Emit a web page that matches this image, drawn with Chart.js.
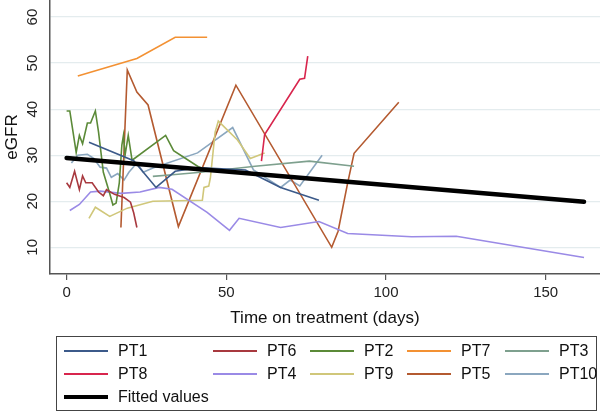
<!DOCTYPE html>
<html>
<head>
<meta charset="utf-8">
<script src="https://cdn.jsdelivr.net/npm/chart.js@4"></script>
<style>
  html, body { margin: 0; padding: 0; background: #fff; }
  #wrap { position: relative; width: 600px; height: 416px; font-family: "Liberation Sans", Arial, sans-serif; }
  #legend { position: absolute; left: 56px; top: 336px; width: 541px; height: 75px; border: 1px solid #444; box-sizing: border-box; }
  .item { position: absolute; height: 20px; display: flex; align-items: center; font-size: 16px; color: #111; }
  .item span.sw { display: inline-block; width: 44px; margin-right: 10px; }
</style>
</head>
<body>
<div id="wrap">
  <canvas id="chart" width="600" height="416"></canvas>
  <div id="legend"></div>
</div>
<script>
// eGFR readings per patient (days on treatment / value)
const pt1Days = [7, 21, 28, 34, 41, 56, 67, 79];
const pt1Egfr = [32.8, 28.8, 23.0, 26.5, 27.3, 26.8, 23.0, 20.2];

const pt6Days = [0, 1, 2.5, 4, 5, 6, 8, 10, 11.5, 12.5, 15, 18, 20, 21, 22];
const pt6Egfr = [24, 23, 26.5, 22.5, 25.5, 24, 24, 22, 21.2, 22.5, 21.5, 20.8, 19.8, 17.5, 14.3];

const pt2Days = [0, 1, 3, 4, 5, 6.5, 7.5, 9, 10, 11.5, 13.5, 14.5, 15.5, 16.5, 17.3, 17.8, 18.3, 19.3, 20.5, 31, 33.5, 41, 43];
const pt2Egfr = [39.6, 39.6, 30.6, 34.3, 32.5, 37, 37, 39.6, 35, 26.3, 21.7, 19.2, 19.6, 24, 32.2, 34.3, 30, 34.3, 28.9, 34.3, 31, 27.6, 27];

const pt7Days = [3.5, 22, 34, 44];
const pt7Egfr = [47.2, 51, 55.6, 55.6];

const pt3Days = [27, 34, 42, 59, 76, 90];
const pt3Egfr = [25.4, 25.8, 26.3, 27.6, 28.7, 27.6];

const pt8Days = [61, 62, 73, 74.5, 75.5];
const pt8Egfr = [28.7, 34.5, 46.5, 46.7, 51.5];

const pt4Days = [1, 4, 7.5, 10.5, 17, 23, 29, 33, 44, 51, 54, 67, 79, 88, 108, 122, 162];
const pt4Egfr = [18, 19.3, 22, 22.2, 21.7, 22, 23, 22.6, 17.6, 13.7, 16.3, 14.3, 15.6, 13, 12.3, 12.4, 7.8];

const pt9Days = [7, 9, 13.5, 19, 27, 42.5, 43, 44.5, 45, 46.5, 47.5, 53.5, 57.5, 62];
const pt9Egfr = [16.3, 18.7, 16.7, 18.5, 20, 20.2, 23, 23.3, 25, 35, 37.4, 33.3, 29.3, 30.5];

const pt5Days = [17, 19, 22, 25.5, 35, 53, 83, 85, 88, 90, 104];
const pt5Egfr = [14.3, 48.5, 43.7, 40.9, 14.5, 45.2, 10, 13.5, 24, 30.4, 41.5];

const pt10Days = [1.5, 3.5, 6.5, 8.5, 10.5, 12.5, 14, 16, 18, 19.5, 22, 24, 27, 41, 52, 58.5, 67, 70, 73, 80];
const pt10Egfr = [28.3, 30, 30.2, 29.3, 27.4, 27.2, 25.2, 26, 24.6, 26.3, 28.3, 26.3, 27.2, 30.5, 36, 26.8, 23, 24.6, 23.3, 30];

const fitDays = [0, 162];
const fitEgfr = [29.4, 19.9];

const xTicks = [0, 50, 100, 150];
const yTicks = [10, 20, 30, 40, 50, 60];

const series = [
    { label: 'PT1', days: pt1Days, vals: pt1Egfr, color: '#3c5a8a' },
    { label: 'PT6', days: pt6Days, vals: pt6Egfr, color: '#a8393f' },
    { label: 'PT2', days: pt2Days, vals: pt2Egfr, color: '#5b8a38' },
    { label: 'PT7', days: pt7Days, vals: pt7Egfr, color: '#f39133' },
    { label: 'PT3', days: pt3Days, vals: pt3Egfr, color: '#7ea08e' },
    { label: 'PT8', days: pt8Days, vals: pt8Egfr, color: '#d8254d' },
    { label: 'PT4', days: pt4Days, vals: pt4Egfr, color: '#9a8ae6' },
    { label: 'PT9', days: pt9Days, vals: pt9Egfr, color: '#d0c77a' },
    { label: 'PT5', days: pt5Days, vals: pt5Egfr, color: '#b45a30' },
    { label: 'PT10', days: pt10Days, vals: pt10Egfr, color: '#8ba7bf' }
];

const toPoints = (days, vals) => days.map((d, i) => ({ x: d, y: vals[i] }));

const datasets = [{
    label: 'Fitted values',
    data: toPoints(fitDays, fitEgfr),
    borderColor: '#000',
    borderWidth: 4.5,
    pointRadius: 0,
    borderCapStyle: 'round'
}].concat(series.map(s => ({
    label: s.label,
    data: toPoints(s.days, s.vals),
    borderColor: s.color,
    borderWidth: 1.6,
    pointRadius: 0
})));

// rotated y tick labels, Stata style
const yLabels = {
    id: 'yLabels',
    afterDraw(chart) {
        const { ctx, scales: { y } } = chart;
        ctx.save();
        ctx.font = '15px "Liberation Sans", Arial, sans-serif';
        ctx.fillStyle = '#222';
        ctx.textAlign = 'center';
        ctx.textBaseline = 'middle';
        yTicks.forEach(v => {
            ctx.save();
            ctx.translate(33, y.getPixelForValue(v));
            ctx.rotate(-Math.PI / 2);
            ctx.fillText(String(v), 0, 0);
            ctx.restore();
        });
        ctx.restore();
    }
};

new Chart(document.getElementById('chart'), {
    type: 'line',
    data: { datasets: datasets },
    options: {
        responsive: false,
        animation: false,
        layout: { padding: { left: 0, right: 0, top: 0, bottom: 80 } },
        plugins: { legend: { display: false }, tooltip: { enabled: false } },
        scales: {
            x: {
                type: 'linear',
                min: -5.2,
                max: 167,
                afterBuildTicks: scale => { scale.ticks = xTicks.map(v => ({ value: v })); },
                afterFit: scale => { scale.height = 62; },
                grid: { drawOnChartArea: false, drawTicks: true, tickLength: 6, color: '#555', lineWidth: 1.2 },
                border: { color: '#555', width: 1.5 },
                ticks: { color: '#222', font: { size: 15, family: '"Liberation Sans", Arial' }, padding: 4, maxRotation: 0 },
                title: { display: true, text: 'Time on treatment (days)', color: '#111', font: { size: 17, family: '"Liberation Sans", Arial' }, padding: { top: 4, bottom: 7 } }
            },
            y: {
                type: 'linear',
                min: 4.2,
                max: 63.7,
                afterBuildTicks: scale => { scale.ticks = yTicks.map(v => ({ value: v })); },
                afterFit: scale => { scale.width = 50; },
                grid: { color: '#e4ecee', lineWidth: 1.2, drawTicks: false },
                border: { color: '#555', width: 1.5 },
                ticks: { display: false },
                title: { display: true, text: 'eGFR', color: '#111', font: { size: 17, family: '"Liberation Sans", Arial' }, padding: { top: 2, bottom: 0 } }
            }
        }
    },
    plugins: [yLabels]
});

// legend laid out in Stata's column grid
const legendItems = [
    ['PT1', 0, 0], ['PT6', 1, 0], ['PT2', 2, 0], ['PT7', 3, 0], ['PT3', 4, 0],
    ['PT8', 0, 1], ['PT4', 1, 1], ['PT9', 2, 1], ['PT5', 3, 1], ['PT10', 4, 1],
    ['Fitted values', 0, 2]
];
const colX = [7, 156, 253, 350, 448];
const rowY = [4, 27, 50];
const legend = document.getElementById('legend');
legendItems.forEach(([name, c, r]) => {
    const s = series.find(p => p.label === name);
    const el = document.createElement('div');
    el.className = 'item';
    el.style.left = colX[c] + 'px';
    el.style.top = rowY[r] + 'px';
    const sw = document.createElement('span');
    sw.className = 'sw';
    sw.style.height = s ? '2px' : '4px';
    sw.style.background = s ? s.color : '#000';
    el.appendChild(sw);
    el.appendChild(document.createTextNode(name));
    legend.appendChild(el);
});
</script>
</body>
</html>
